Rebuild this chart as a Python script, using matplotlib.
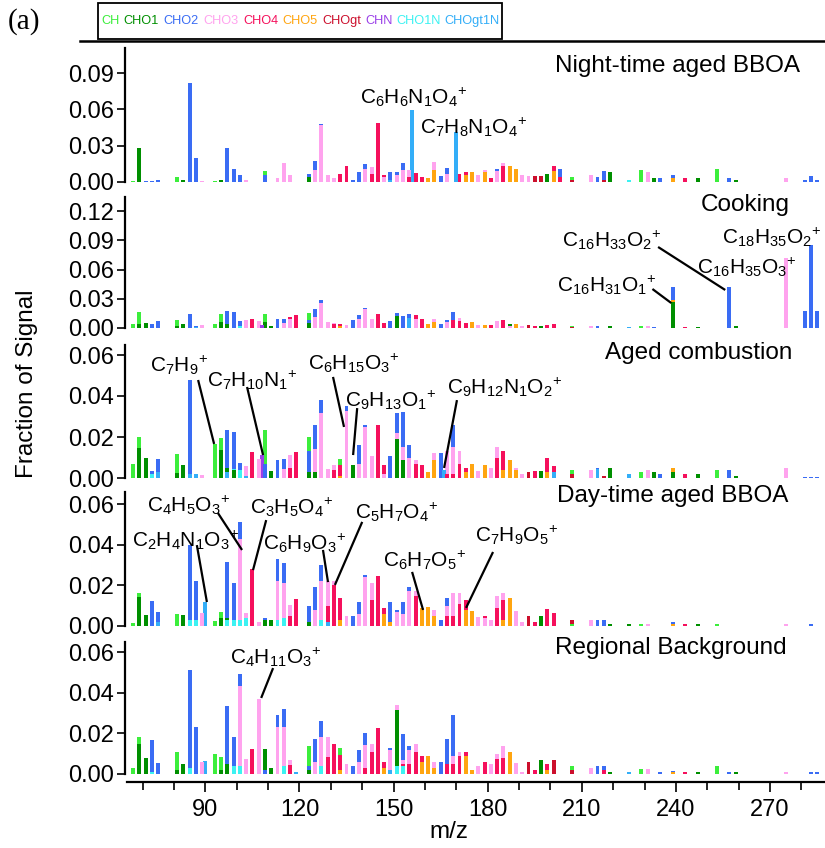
import re
import matplotlib
matplotlib.use("Agg")
import matplotlib.pyplot as plt
from matplotlib.lines import Line2D
from matplotlib.patches import Rectangle
from matplotlib.ticker import FixedLocator, FormatStrFormatter

plt.rcParams['font.family'] = ['Liberation Sans', 'DejaVu Sans']
plt.rcParams['mathtext.fontset'] = 'custom'
plt.rcParams['mathtext.rm'] = 'Liberation Sans'
plt.rcParams['mathtext.it'] = 'Liberation Sans:italic'
plt.rcParams['mathtext.bf'] = 'Liberation Sans:bold'

# ---------------------------------------------------------------- families
families = ["CH", "CHO1", "CHO2", "CHO3", "CHO4", "CHO5",
            "CHOgt", "CHN", "CHO1N", "CHOgt1N"]
family_colors = ["#3cee3c", "#008f00", "#3a6cf4", "#ffa3ee", "#f5105c",
                 "#ffa510", "#cc0f2c", "#9b40e8", "#3cf2f2", "#33aef8"]

# ---------------------------------------------------------------- spectra
# family -> list of (nominal m/z, fraction of signal)
night_aged_bboa = {
    "CH": [(67, .001), (81, .004), (93, .0012), (109, .009), (207, .004),
           (229, .010), (253, .011)],
    "CHO1": [(69, .028), (83, .002), (95, .002), (123, .004), (199, .007),
             (219, .008), (233, .003), (247, .003), (259, .002)],
    "CHO2": [(71, .001), (73, .001), (75, .002), (85, .082), (87, .020),
             (97, .028), (99, .011), (101, .0055), (109, .006), (123, .007),
             (125, .017), (127, .048), (131, .003), (137, .002), (139, .008),
             (141, .015), (143, .012), (149, .008), (151, .008), (153, .016),
             (165, .005), (167, .0115), (183, .011), (203, .011), (215, .004),
             (217, .009), (235, .003), (239, .006), (257, .003), (281, .002),
             (283, .005), (285, .002)],
    "CHO3": [(89, .001), (103, .002), (113, .003), (115, .016), (117, .006),
             (125, .0095), (127, .047), (129, .006), (131, .003), (141, .011),
             (143, .012), (147, .004), (151, .006), (153, .010), (155, .010),
             (163, .0165), (167, .007), (171, .007), (177, .006), (179, .010),
             (183, .009), (185, .016), (191, .006), (193, .005), (213, .006),
             (231, .008), (275, .003)],
    "CHO4": [(133, .007), (135, .013), (143, .007), (145, .049), (147, .006),
             (155, .004), (157, .0075), (159, .004), (171, .007), (173, .008),
             (181, .003), (185, .013), (201, .013), (203, .004), (243, .003)],
    "CHO5": [(161, .003), (163, .010), (173, .006), (175, .008), (179, .008),
             (187, .013), (189, .011), (201, .009), (239, .003)],
    "CHOgt": [(195, .005), (197, .005), (207, .002), (217, .002)],
    "CHN": [],
    "CHO1N": [(225, .002)],
    "CHOgt1N": [(149, .002), (156, .0597), (170, .041)],
}

cooking = {
    "CH": [(67, .004), (69, .016), (81, .008), (93, .004), (95, .014),
           (109, .014), (123, .015), (207, .002), (229, .002)],
    "CHO1": [(69, .004), (71, .0055), (81, .002), (83, .004), (95, .006),
             (97, .004), (109, .006), (111, .002), (123, .005), (151, .012),
             (187, .004), (197, .002), (219, .002), (239, .027), (247, .001),
             (259, .002)],
    "CHO2": [(73, .004), (75, .007), (85, .0145), (87, .002), (97, .017),
             (99, .016), (101, .007), (113, .009), (115, .009), (123, .008),
             (125, .019), (127, .029), (137, .008), (139, .013), (141, .021),
             (149, .007), (151, .015), (153, .012), (155, .014), (165, .004),
             (167, .008), (169, .016), (215, .002), (233, .001), (239, .0424),
             (257, .042), (281, .017), (283, .085), (285, .017)],
    "CHO3": [(89, .003), (103, .008), (107, .007), (115, .005), (117, .009),
             (125, .011), (127, .026), (129, .006), (131, .005), (135, .003),
             (139, .009), (141, .019), (143, .009), (157, .009), (163, .009),
             (167, .006), (171, .010), (177, .003), (183, .007), (187, .002),
             (191, .002), (213, .002), (231, .002), (275, .0715)],
    "CHO4": [(105, .009), (117, .011), (119, .013), (131, .004), (133, .004),
             (145, .014), (147, .005), (157, .013), (159, .009), (169, .008),
             (171, .007), (173, .005), (181, .003), (185, .008), (195, .002),
             (199, .003), (201, .004), (243, .001)],
    "CHO5": [(133, .002), (161, .004), (163, .006), (175, .006), (179, .003),
             (189, .004), (239, .0285)],
    "CHOgt": [(193, .003), (207, .001)],
    "CHN": [(108, .003)],
    "CHO1N": [(101, .002)],
    "CHOgt1N": [(87, .001), (155, .010), (225, .001)],
}

aged_combustion = {
    "CH": [(67, .0067), (69, .0198), (81, .0117), (93, .0165), (95, .0195),
           (109, .0234), (123, .020), (133, .0095), (207, .004), (229, .003),
           (253, .004)],
    "CHO1": [(69, .0145), (71, .0096), (81, .0023), (83, .0065), (95, .0135),
             (97, .005), (99, .004), (111, .0035), (123, .003), (125, .003),
             (137, .0063), (151, .019), (153, .009), (197, .0035), (219, .005),
             (233, .003), (239, .003), (247, .002), (259, .001)],
    "CHO2": [(73, .0034), (75, .0093), (85, .0478), (97, .0232), (99, .0225),
             (101, .0075), (109, .007), (113, .009), (115, .0095), (123, .0133),
             (125, .026), (127, .038), (135, .035), (139, .016), (141, .026),
             (149, .0105), (151, .0315), (153, .032), (155, .016), (165, .012),
             (169, .026), (215, .005), (235, .002), (257, .004), (281, .0006),
             (283, .0006), (285, .0006)],
    "CHO3": [(89, .0016), (103, .006), (107, .0095), (115, .0045), (117, .0112),
             (125, .014), (127, .0315), (129, .0045), (131, .0065), (135, .0325),
             (139, .007), (141, .025), (143, .0105), (147, .002), (151, .022),
             (153, .015), (155, .010), (157, .009), (163, .012), (167, .013),
             (169, .015), (171, .013), (177, .0035), (181, .005), (183, .015),
             (189, .005), (191, .002), (213, .004), (231, .004), (275, .005)],
    "CHO4": [(105, .0125), (117, .005), (119, .0128), (131, .004), (133, .0065),
             (145, .026), (147, .0065), (157, .007), (159, .0065), (167, .002),
             (169, .002), (171, .007), (173, .005), (183, .010), (185, .013),
             (195, .0035), (199, .010), (201, .006), (243, .002)],
    "CHO5": [(133, .001), (161, .003), (163, .009), (173, .003), (175, .007),
             (179, .0065), (185, .004), (187, .009), (189, .004), (199, .003),
             (239, .005)],
    "CHOgt": [(193, .003), (207, .002), (217, .001)],
    "CHN": [(108, .011)],
    "CHO1N": [(73, .002), (99, .0045), (101, .004)],
    "CHOgt1N": [(75, .003), (85, .002), (87, .002), (97, .003), (103, .001),
                (166, .004), (201, .003), (215, .0045), (225, .002)],
}

day_aged_bboa = {
    "CH": [(67, .0016), (69, .016), (81, .006), (93, .0025), (95, .007),
           (207, .001), (229, .001), (253, .001)],
    "CHO1": [(69, .0145), (71, .0055), (83, .0055), (95, .004), (97, .004),
             (109, .003), (111, .003), (123, .002), (197, .005), (219, .001),
             (225, .001), (247, .001)],
    "CHO2": [(73, .0125), (75, .007), (85, .040), (87, .022), (97, .0315),
             (99, .021), (101, .051), (109, .004), (113, .033), (115, .031),
             (123, .010), (125, .019), (127, .030), (137, .005), (139, .012),
             (141, .025), (149, .012), (151, .008), (153, .012), (155, .019),
             (165, .003), (167, .014), (215, .003), (217, .003), (239, .002),
             (283, .001)],
    "CHO3": [(89, .0065), (101, .043), (103, .0065), (107, .002), (113, .022),
             (115, .021), (117, .0105), (125, .008), (127, .022), (129, .022),
             (131, .022), (135, .005), (139, .006), (141, .024), (143, .021),
             (151, .007), (153, .006), (155, .017), (157, .017), (163, .008),
             (167, .010), (169, .016), (171, .016), (177, .0045), (179, .004),
             (181, .003), (183, .015), (185, .016), (189, .0075), (191, .002),
             (213, .003), (231, .001), (275, .001)],
    "CHO4": [(105, .028), (117, .005), (119, .0135), (129, .010), (131, .020),
             (133, .014), (143, .013), (145, .0245), (147, .009), (157, .015),
             (159, .009), (167, .005), (169, .005), (171, .011), (173, .013),
             (179, .005), (183, .009), (185, .013), (195, .002), (199, .0085),
             (201, .0065), (243, .001)],
    "CHO5": [(133, .003), (147, .006), (149, .002), (159, .0088), (161, .0095),
             (163, .005), (173, .008), (175, .0075), (185, .003), (187, .014),
             (239, .001)],
    "CHOgt": [(193, .005), (207, .003)],
    "CHN": [],
    "CHO1N": [(85, .003), (87, .003), (97, .003), (99, .003), (101, .003),
              (103, .004), (113, .003), (115, .004), (127, .003)],
    "CHOgt1N": [(75, .002), (90, .012), (129, .002)],
}

regional_background = {
    "CH": [(67, .003), (69, .018), (81, .011), (93, .0097), (95, .0085),
           (123, .014), (133, .0128), (207, .004), (229, .0025), (253, .004)],
    "CHO1": [(69, .015), (71, .008), (81, .002), (83, .005), (95, .002),
             (97, .005), (109, .0125), (111, .003), (123, .002), (137, .004),
             (151, .0315), (153, .004), (197, .007), (219, .001), (225, .001),
             (247, .001), (259, .001)],
    "CHO2": [(73, .0165), (75, .0055), (85, .051), (87, .023), (97, .0335),
             (99, .018), (101, .049), (109, .002), (113, .029), (115, .032),
             (123, .004), (125, .017), (127, .026), (137, .004), (139, .012),
             (141, .020), (149, .013), (153, .0195), (155, .014), (163, .006),
             (165, .006), (167, .017), (169, .029), (215, .004), (217, .004),
             (235, .001), (239, .0015), (257, .001), (283, .001), (285, .001)],
    "CHO3": [(89, .006), (101, .0435), (103, .0075), (107, .037), (113, .023),
             (115, .023), (117, .007), (125, .006), (127, .018), (129, .018),
             (135, .005), (139, .006), (141, .0145), (143, .015), (149, .012),
             (151, .034), (153, .007), (155, .012), (157, .015), (163, .006),
             (169, .009), (171, .011), (177, .004), (181, .005), (183, .010),
             (185, .014), (189, .0055), (191, .001), (213, .003), (231, .0025),
             (275, .001)],
    "CHO4": [(105, .0125), (117, .0045), (129, .0085), (131, .015), (133, .0095),
             (141, .003), (143, .011), (145, .0225), (147, .006), (153, .005),
             (155, .005), (157, .011), (159, .009), (167, .005), (169, .005),
             (171, .009), (173, .011), (179, .006), (183, .0075), (185, .008),
             (195, .002), (199, .005), (217, .002), (243, .001)],
    "CHO5": [(133, .002), (147, .003), (159, .006), (161, .009), (163, .003),
             (173, .009), (175, .002), (187, .011), (199, .002), (239, .001)],
    "CHOgt": [(193, .006), (201, .007), (207, .002)],
    "CHN": [],
    "CHO1N": [(73, .001), (85, .003), (99, .004), (101, .004), (115, .004),
              (127, .004), (151, .004), (153, .004)],
    "CHOgt1N": [(90, .0064), (119, .001), (149, .002), (225, .001)],
}

# ---------------------------------------------------------------- labels
# (ion, text m/z, text y, leader start m/z, leader start y, leader end m/z, leader end y)
night_labels = [("C6H6N1O4", 139.3, .0700, None, None, None, None),
                ("C7H8N1O4", 158.4, .0454, None, None, None, None)]
cooking_labels = [("C16H33O2", 203.7, .0900, 234.3, .0831, 255.7, .0390),
                  ("C16H31O1", 202.1, .0440, 232.5, .0400, 238.5, .0256),
                  ("C16H35O3", 246.7, .0626, None, None, None, None),
                  ("C18H35O2", 254.7, .0933, None, None, None, None)]
combustion_labels = [("C7H9", 72.4, .0551, 87.7, .0478, 92.8, .0166),
                     ("C7H10N1", 90.5, .0478, 103.3, .0444, 108.4, .0112),
                     ("C6H15O3", 122.7, .0561, 130.7, .0493, 134.2, .0249),
                     ("C9H13O1", 134.5, .0380, 138.4, .0341, 137.1, .0112),
                     ("C9H12N1O2", 167.0, .0444, 170.2, .0380, 166.1, .0049)]
day_labels = [("C4H5O3", 71.4, .0595, 94.0, .0556, 101.7, .0374),
              ("C2H4N1O3", 66.6, .0423, 87.3, .0398, 90.5, .0118),
              ("C3H5O4", 104.3, .0585, 109.4, .0521, 105.2, .0275),
              ("C6H9O3", 108.4, .0408, 127.5, .0374, 129.1, .0216),
              ("C5H7O4", 137.7, .0561, 140.0, .0512, 131.3, .0202),
              ("C6H7O5", 146.6, .0325, 155.9, .0266, 159.4, .0079),
              ("C7H9O5", 176.0, .0448, 181.7, .0364, 173.1, .0089)]
regional_labels = [("C4H11O3", 97.9, .0576, 111.6, .0521, 107.8, .0374)]

panel_titles = ["Night-time aged BBOA", "Cooking", "Aged combustion",
                "Day-time aged BBOA", "Regional Background"]
panel_yticks = [[0.00, 0.03, 0.06, 0.09],
                [0.00, 0.03, 0.06, 0.09, 0.12],
                [0.00, 0.02, 0.04, 0.06],
                [0.00, 0.02, 0.04, 0.06],
                [0.00, 0.02, 0.04, 0.06]]
xtick_major = [90, 120, 150, 180, 210, 240, 270]
xtick_minor = [70, 80, 100, 110, 130, 140, 160, 170, 190, 200, 220, 230,
               250, 260, 280]

# ---------------------------------------------------------------- layout (px)
W, H = 825, 848
AX_LEFT, AX_RIGHT = 125, 825
XMIN, XMAX = 64.4, 287.5
# (top, zero line, bottom, px per unit)
panel_geom = [(48, 182, 188, 1211.0),
              (197, 328, 334, 975.0),
              (345, 478, 484, 2050.0),
              (492, 626, 632, 2033.0),
              (642, 774, 782, 2033.0)]
title_pos = [(800, 66), (790, 205), (792, 353), (788, 496), (787, 648)]

TICK_FS = 17
LABEL_FS = 17.5
FORMULA_FS = 15
BAR_W = 1.25

fig = plt.figure(figsize=(W / 100, H / 100), dpi=100)


def formula(ion):
    body = re.sub(r"(\d+)", r"_{\1}", ion)
    return r"$\mathregular{" + body + r"}{}^{+}$"


spectra = [night_aged_bboa, cooking, aged_combustion, day_aged_bboa,
           regional_background]
labels = [night_labels, cooking_labels, combustion_labels, day_labels,
          regional_labels]

axes = []
for i, (spec, labs) in enumerate(zip(spectra, labels)):
    top, zero, bottom, scale = panel_geom[i]
    ax = fig.add_axes([AX_LEFT / W, 1 - bottom / H,
                       (AX_RIGHT - AX_LEFT) / W, (bottom - top) / H])
    ymax = (zero - top) / scale
    ymin = -(bottom - zero) / scale
    ax.set_xlim(XMIN, XMAX)
    ax.set_ylim(ymin, ymax)

    # overlaid bars: tallest drawn first so shorter families stay visible
    peaks = []
    for fam, col in zip(families, family_colors):
        for mz, val in spec[fam]:
            peaks.append((val, mz, col))
    peaks.sort(key=lambda p: -p[0])
    ax.bar([p[1] for p in peaks], [p[0] for p in peaks], width=BAR_W,
           color=[p[2] for p in peaks], linewidth=0, zorder=2)

    for ion, tx, ty, sx, sy, ex, ey in labs:
        ax.text(tx, ty, formula(ion), fontsize=FORMULA_FS, ha="left",
                va="center", zorder=4)
        if sx is not None:
            ax.plot([sx, ex], [sy, ey], color="black", lw=1.6,
                    solid_capstyle="butt", zorder=3, clip_on=False)

    for side in ("top", "right"):
        ax.spines[side].set_visible(False)
    ax.spines["left"].set_bounds(0, ymax)
    ax.spines["left"].set_linewidth(1.6)
    ax.yaxis.set_major_locator(FixedLocator(panel_yticks[i]))
    ax.yaxis.set_major_formatter(FormatStrFormatter("%.2f"))
    ax.tick_params(axis="y", direction="out", length=6, width=1.2,
                   pad=2, labelsize=TICK_FS)
    ax.patch.set_alpha(0)

    if i < 4:
        ax.spines["bottom"].set_visible(False)
        ax.set_xticks([])
    else:
        ax.spines["bottom"].set_linewidth(1.6)
        ax.spines["bottom"].set_bounds(XMIN + 0.7, XMAX)
        ax.xaxis.set_major_locator(FixedLocator(xtick_major))
        ax.xaxis.set_minor_locator(FixedLocator(xtick_minor))
        ax.tick_params(axis="x", which="major", direction="out", length=7,
                       width=1.2, pad=5, labelsize=TICK_FS)
        ax.tick_params(axis="x", which="minor", direction="out", length=6,
                       width=1.2)

    tx, ty = title_pos[i]
    fig.text(tx / W, 1 - ty / H, panel_titles[i], fontsize=LABEL_FS,
             ha="right", va="center")
    axes.append(ax)

# axis titles
fig.text(27 / W, 1 - 384 / H, "Fraction of Signal", rotation=90,
         fontsize=LABEL_FS, ha="center", va="center")
fig.text(449 / W, 1 - 832 / H, "m/z", fontsize=LABEL_FS, ha="center",
         va="center")

# header rule, panel tag and family key
fig.add_artist(Line2D([80 / W, 1.0], [1 - 40.5 / H, 1 - 40.5 / H],
                      color="black", lw=1.8, transform=fig.transFigure))
fig.text(8 / W, 1 - 22 / H, "(a)", fontsize=21,
         family=["Liberation Serif", "DejaVu Serif"], ha="left", va="center")
fig.add_artist(Rectangle((98 / W, 1 - 39 / H), (502 - 98) / W, 36 / H,
                         facecolor="white", edgecolor="black", lw=1.3,
                         transform=fig.transFigure, zorder=5))
key_centers = [110, 141.5, 181.5, 221, 261, 300, 341.5, 379, 419, 472]
for fam, col, cx in zip(families, family_colors, key_centers):
    fig.text(cx / W, 1 - 21 / H, fam, color=col, fontsize=9.2,
             ha="center", va="center", zorder=6)

fig.savefig("out.png", dpi=100)
